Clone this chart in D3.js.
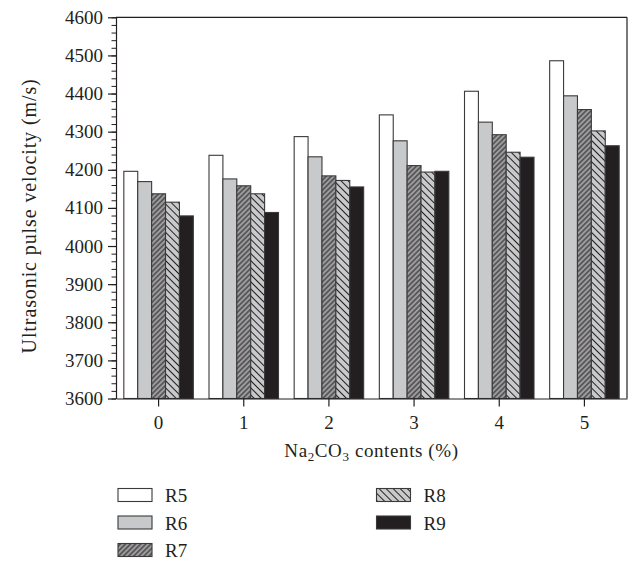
<!DOCTYPE html>
<html>
<head>
<meta charset="utf-8">
<script src="https://cdn.jsdelivr.net/npm/d3@7"></script>
<style>
  body { margin: 0; background: #fff; }
  text { font-family: "Liberation Serif", "DejaVu Serif", serif; fill: #231f20; }
</style>
</head>
<body>
<div id="chart"></div>
<script>
// data
const contents = ["0", "1", "2", "3", "4", "5"];
const series = ["R5", "R6", "R7", "R8", "R9"];
const r5 = [4196, 4238, 4287, 4344, 4406, 4486];
const r6 = [4169, 4176, 4234, 4276, 4325, 4394];
const r7 = [4137, 4158, 4184, 4211, 4292, 4358];
const r8 = [4115, 4137, 4172, 4194, 4246, 4302];
const r9 = [4079, 4088, 4155, 4196, 4233, 4263];
const yTicks = [3600, 3700, 3800, 3900, 4000, 4100, 4200, 4300, 4400, 4500, 4600];

const values = { R5: r5, R6: r6, R7: r7, R8: r8, R9: r9 };

const svgWidth = 632;
const svgHeight = 562;
const margin = { top: 17.3, right: 5, bottom: 163.5, left: 116 };
const width = svgWidth - margin.left - margin.right;
const height = svgHeight - margin.top - margin.bottom;

const svg = d3.select("#chart")
  .append("svg")
  .attr("width", svgWidth)
  .attr("height", svgHeight);

// hatch patterns
const defs = svg.append("defs");
function hatch(id, bg, size, angle) {
  const p = defs.append("pattern")
    .attr("id", id)
    .attr("patternUnits", "userSpaceOnUse")
    .attr("width", size)
    .attr("height", size)
    .attr("patternTransform", `rotate(${angle})`);
  p.append("rect").attr("width", size).attr("height", size).attr("fill", bg);
  p.append("line")
    .attr("x1", size / 2).attr("x2", size / 2)
    .attr("y1", 0).attr("y2", size)
    .attr("stroke", "#231f20")
    .attr("stroke-width", 1);
}
hatch("h7", "#9d9d9f", 3.6, 45);
hatch("h8", "#c8c9cb", 5, -45);

const fills = {
  R5: "#ffffff",
  R6: "#c8c9cb",
  R7: "url(#h7)",
  R8: "url(#h8)",
  R9: "#231f20"
};

const chartGroup = svg.append("g")
  .attr("transform", `translate(${margin.left}, ${margin.top})`);

const x0 = d3.scaleBand().domain(contents).range([0, width]);
const groupW = 69.5;
const x1 = d3.scaleBand().domain(series).range([0, groupW]);
const y = d3.scaleLinear().domain([3600, 4600]).range([height, 0]);

// bars
const groups = chartGroup.selectAll(".grp")
  .data(contents)
  .enter()
  .append("g")
  .attr("transform", d => `translate(${x0(d) + (x0.bandwidth() - groupW) / 2}, 0)`);

groups.selectAll("rect")
  .data((c, i) => series.map(s => ({ s: s, v: values[s][i] })))
  .enter()
  .append("rect")
  .attr("x", d => x1(d.s))
  .attr("width", x1.bandwidth())
  .attr("y", d => y(d.v))
  .attr("height", d => height - y(d.v))
  .attr("fill", d => fills[d.s])
  .attr("stroke", "#3a3a3a")
  .attr("stroke-width", 1.1);

// minor y ticks
const minorAxis = d3.axisLeft(y)
  .tickValues(d3.range(3600, 4601, 20))
  .tickSize(4.5)
  .tickFormat("");
chartGroup.append("g").call(minorAxis)
  .call(g => g.select(".domain").remove())
  .selectAll("line").attr("stroke", "#231f20").attr("stroke-width", 1);

// major y axis
const leftAxis = d3.axisLeft(y)
  .tickValues(yTicks)
  .tickFormat(d3.format("d"))
  .tickSize(8)
  .tickPadding(5)
  .tickSizeOuter(0);
const yAxis = chartGroup.append("g").call(leftAxis);
yAxis.select(".domain").attr("stroke", "#231f20").attr("stroke-width", 1.2);
yAxis.selectAll("line").attr("stroke", "#231f20").attr("stroke-width", 1.2);
yAxis.selectAll("text").attr("font-size", "19px").attr("font-family", "Liberation Serif");

// x axis
const bottomAxis = d3.axisBottom(x0).tickSize(8).tickPadding(9).tickSizeOuter(0);
const xAxis = chartGroup.append("g")
  .attr("transform", `translate(0, ${height})`)
  .call(bottomAxis);
xAxis.select(".domain").attr("stroke", "#231f20").attr("stroke-width", 1.2);
xAxis.selectAll("line").attr("stroke", "#231f20").attr("stroke-width", 1.2);
xAxis.selectAll("text").attr("font-size", "19px").attr("font-family", "Liberation Serif");

// frame top and right
chartGroup.append("line")
  .attr("x1", 0).attr("x2", width).attr("y1", 0).attr("y2", 0)
  .attr("stroke", "#231f20").attr("stroke-width", 1.2);
chartGroup.append("line")
  .attr("x1", width).attr("x2", width).attr("y1", 0).attr("y2", height)
  .attr("stroke", "#231f20").attr("stroke-width", 1.2);

// axis titles
const xTitle = chartGroup.append("text")
  .attr("x", width / 2)
  .attr("y", height + 59)
  .attr("text-anchor", "middle")
  .attr("font-size", "19px")
  .attr("letter-spacing", "0.6px");
xTitle.append("tspan").text("Na");
xTitle.append("tspan").attr("font-size", "13px").attr("dy", 4).text("2");
xTitle.append("tspan").attr("dy", -4).text("CO");
xTitle.append("tspan").attr("font-size", "13px").attr("dy", 4).text("3");
xTitle.append("tspan").attr("dy", -4).text(" contents (%)");

chartGroup.append("text")
  .attr("transform", `translate(-80, ${height / 2 + 8}) rotate(-90)`)
  .attr("text-anchor", "middle")
  .attr("font-size", "20px")
  .attr("letter-spacing", "0.9px")
  .text("Ultrasonic pulse velocity (m/s)");

// legend
const legendPos = [
  { x: 118, y: 488.5 }, { x: 118, y: 516 }, { x: 118, y: 543.5 },
  { x: 376.5, y: 488.5 }, { x: 376.5, y: 516 }
];
const legend = svg.append("g");
series.forEach((s, i) => {
  const p = legendPos[i];
  legend.append("rect")
    .attr("x", p.x).attr("y", p.y)
    .attr("width", 34).attr("height", 13)
    .attr("fill", fills[s])
    .attr("stroke", "#3a3a3a")
    .attr("stroke-width", 1.1);
  legend.append("text")
    .attr("x", p.x + 47)
    .attr("y", p.y + 13.5)
    .attr("font-size", "19px")
    .text(s);
});
</script>
</body>
</html>
